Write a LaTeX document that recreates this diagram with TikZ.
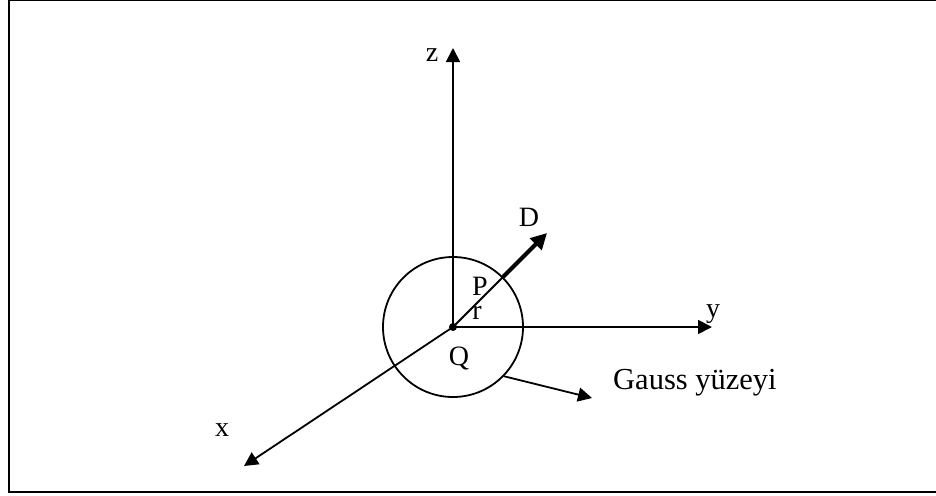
\documentclass[tikz,border=0pt]{standalone}
\usepackage{fontspec}
\setmainfont{Liberation Serif}
\usetikzlibrary{arrows.meta}
\begin{document}
\begin{tikzpicture}[x=1pt,y=-1pt,
  axis/.style={line width=1.8pt,-{Triangle[length=14pt,width=14pt]}},
  lbl/.style={anchor=base,inner sep=0pt,font=\fontsize{28}{30}\selectfont},
  glbl/.style={anchor=base west,inner sep=0pt,font=\fontsize{30.5}{32}\selectfont}]
\useasboundingbox (0,0) rectangle (936,495);
\draw[line width=2pt] (9,0.3) rectangle (980,492);
\coordinate (O) at (453,327);
\coordinate (ztip) at (453,48);
\coordinate (ytip) at (712,327);
\coordinate (xtip) at (244,466);
\coordinate (Dtip) at (547,233);
\coordinate (Gend) at (592,398);
\node[circle,draw,line width=1.8pt,minimum size=140pt,inner sep=0pt] (S) at (O) {};
\draw[axis] (O) -- (ztip);
\draw[axis] (O) -- (ytip);
\draw[axis] (O) -- (xtip);
\draw[line width=1.8pt] (O) -- (S.45);
\draw[line width=4pt,-{Triangle[length=16pt,width=16pt]}] (S.45) -- (Dtip);
\draw[line width=1.8pt,-{Triangle[length=14pt,width=14pt]}] (S.-44) -- (Gend);
\fill (O) circle (4pt);
\node[lbl] (lz) at (432,62) {z};
\node[lbl] (ly) at (713,317) {y};
\node[lbl] (lx) at (222,436) {x};
\node[lbl] (lD) at (529,226) {D};
\node[lbl] (lP) at (480,295) {P};
\node[lbl] (lr) at (477,319) {r};
\node[lbl] (lQ) at (459,365) {Q};
\node[glbl] (lG) at (613,389) {Gauss yüzeyi};
\end{tikzpicture}
\end{document}
